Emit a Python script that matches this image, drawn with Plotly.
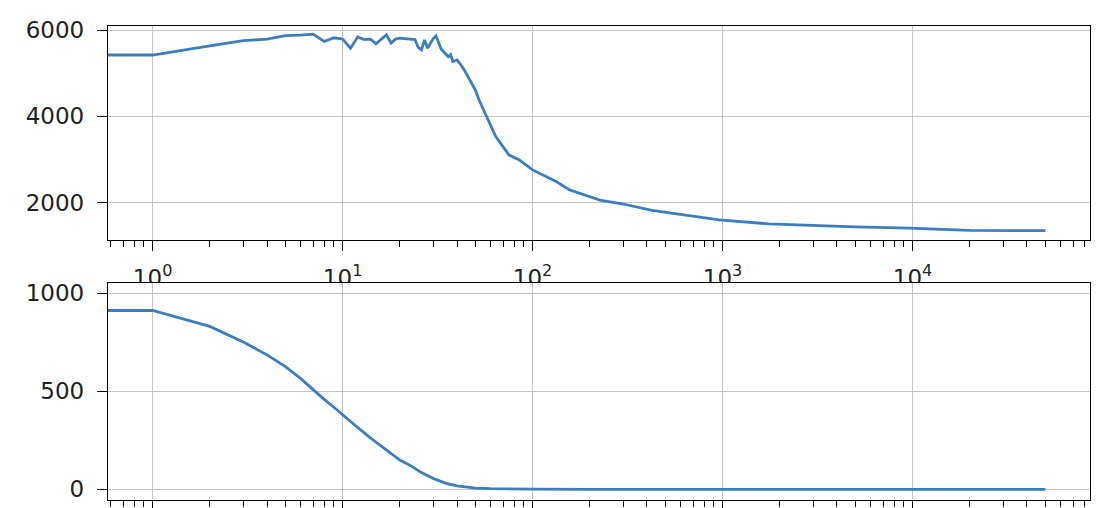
import plotly.graph_objects as go

# ---- data ----
# first point stands for x = 0 (clipped at the left edge on the log axis)
top_x = [1e-3, 1, 2, 3, 4, 5, 6, 7, 8, 9, 10, 11, 12, 13, 14, 15, 16, 17, 18, 19,
         20, 22, 24, 25, 26, 27, 28, 30, 31, 33, 35, 36, 37, 38, 40, 42, 44, 46,
         48, 50, 52, 55, 57, 60, 64, 70, 75, 85, 100, 133, 156, 226, 300, 425,
         600, 960, 1750, 3220, 5000, 9560, 12000, 14400, 20000, 50000]
top_y = [5421, 5421, 5630, 5752, 5790, 5870, 5880, 5905, 5735, 5820, 5790, 5580,
         5840, 5780, 5790, 5680, 5790, 5885, 5700, 5790, 5810, 5800, 5780, 5600,
         5540, 5770, 5580, 5800, 5865, 5560, 5420, 5380, 5430, 5270, 5305, 5190,
         5050, 4900, 4750, 4610, 4400, 4150, 4000, 3800, 3530, 3280, 3110, 2990,
         2760, 2490, 2300, 2060, 1970, 1820, 1730, 1600, 1510, 1460, 1440, 1410,
         1395, 1368, 1358, 1352]

bot_x = [1e-3, 1, 2, 3, 4, 5, 6, 7, 8, 9, 10, 12, 14, 16, 20, 23, 26, 30, 35,
         40, 45, 50, 60, 80, 100, 200, 1000, 10000, 50000]
bot_y = [911, 911, 830, 750, 685, 625, 565, 505, 458, 418, 379, 315, 262, 220,
         149, 118, 85, 55, 30, 17, 10, 6, 3, 1, 0.5, 0, 0, 0, 0]

x_tickvals = [1, 10, 100, 1000, 10000]
x_ticktext = ["10<sup>0</sup>", "10<sup>1</sup>", "10<sup>2</sup>",
              "10<sup>3</sup>", "10<sup>4</sup>"]
top_yticks = [2000, 4000, 6000]
bot_yticks = [0, 500, 1000]

# ---- styling ----
LINE = "#3a7ebf"
GRID = "#c4c4c4"
FONT = dict(family="DejaVu Sans", size=23, color="#222222")
minor_vals = [m * 10 ** e for e in range(-1, 5) for m in range(2, 10)]
xrange_log = [-0.235, 4.934]

fig = go.Figure()
fig.add_trace(go.Scatter(x=top_x, y=top_y, mode="lines",
                         line=dict(color=LINE, width=2.8),
                         xaxis="x", yaxis="y", showlegend=False))
# helper (empty) subplot so that the lower panel gets its own background layer
fig.add_trace(go.Scatter(x=[], y=[], xaxis="x2", yaxis="y2", showlegend=False))
fig.add_trace(go.Scatter(x=bot_x, y=bot_y, mode="lines",
                         line=dict(color=LINE, width=2.8),
                         xaxis="x3", yaxis="y3", showlegend=False))

common_x = dict(type="log", range=xrange_log, showgrid=True, gridcolor=GRID,
                gridwidth=1.3, showline=True, linecolor="black", linewidth=1.3,
                mirror=True, ticks="outside", ticklen=10, tickwidth=1.3,
                tickcolor="black", tickmode="array", tickvals=x_tickvals,
                ticktext=x_ticktext, zeroline=False, tickfont=FONT,
                automargin=False,
                minor=dict(ticks="outside", ticklen=6, tickwidth=1.1,
                           tickcolor="black", tickmode="array",
                           tickvals=minor_vals, showgrid=False))
common_y = dict(showgrid=True, gridcolor=GRID, gridwidth=1.3, showline=True,
                linecolor="black", linewidth=1.3, mirror=True, ticks="outside",
                ticklen=10, tickwidth=1.3, tickcolor="black", zeroline=False,
                tickfont=FONT, tickmode="array", ticklabelstandoff=8,
                automargin=False)

fig.update_layout(
    width=1105, height=508,
    margin=dict(l=108, r=15, t=26, b=8, autoexpand=False),
    paper_bgcolor="white", plot_bgcolor="white",
    xaxis=dict(common_x, domain=[0, 1], anchor="y", ticklabelstandoff=7),
    yaxis=dict(common_y, domain=[0.5485, 1], anchor="x", range=[1136, 6093],
               tickvals=top_yticks),
    xaxis2=dict(domain=[0.5, 0.51], anchor="y2", visible=False, automargin=False),
    yaxis2=dict(domain=[0.1, 0.11], anchor="x2", visible=False, automargin=False),
    xaxis3=dict(common_x, domain=[0, 1], anchor="y3", showticklabels=False),
    yaxis3=dict(common_y, domain=[0, 0.4578], anchor="x3", range=[-54.6, 1051],
                tickvals=bot_yticks),
)

# pin the figure to the window's top-left corner so it fills the window exactly
post = ("document.body.style.margin='0';"
        "var d=document.getElementById('{plot_id}');"
        "d.style.position='fixed';d.style.left='0px';d.style.top='0px';")
fig.write_html("out.html", config={"displayModeBar": False}, post_script=post)
